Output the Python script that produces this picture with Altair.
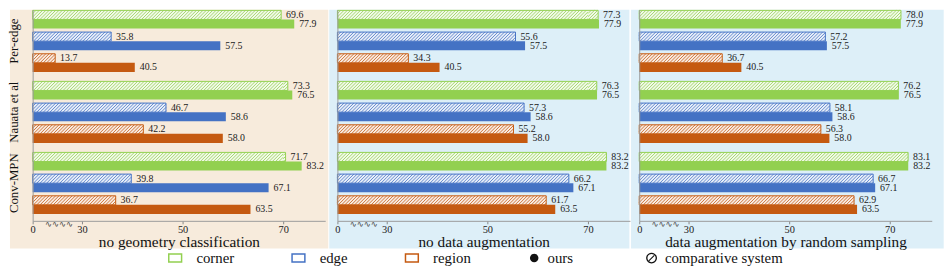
import altair as alt
import pandas as pd

# ---------------- data ----------------
methods = ["Per-edge", "Nauata et al", "Conv-MPN"]
metrics = ["corner", "edge", "region"]
systems = ["ours", "comparative system"]
panels = ["no geometry classification", "no data augmentation",
          "data augmentation by random sampling"]

# ours (identical in every panel): corner, edge, region
ours_per_edge = [77.9, 57.5, 40.5]
ours_nauata = [76.5, 58.6, 58.0]
ours_conv_mpn = [83.2, 67.1, 63.5]

# comparative system: corner, edge, region
nogeo_per_edge = [69.6, 35.8, 13.7]
nogeo_nauata = [73.3, 46.7, 42.2]
nogeo_conv_mpn = [71.7, 39.8, 36.7]

noaug_per_edge = [77.3, 55.6, 34.3]
noaug_nauata = [76.3, 57.3, 55.2]
noaug_conv_mpn = [83.2, 66.2, 61.7]

rand_per_edge = [78.0, 57.2, 36.7]
rand_nauata = [76.2, 58.1, 56.3]
rand_conv_mpn = [83.1, 66.7, 62.9]

x_ticks = [0, 30, 50, 70]

ours_all = [ours_per_edge, ours_nauata, ours_conv_mpn]
comp_all = [
    [nogeo_per_edge, nogeo_nauata, nogeo_conv_mpn],
    [noaug_per_edge, noaug_nauata, noaug_conv_mpn],
    [rand_per_edge, rand_nauata, rand_conv_mpn],
]

rows = []
for pi, pname in enumerate(panels):
    for mi, mname in enumerate(methods):
        for ki, kname in enumerate(metrics):
            rows.append(dict(panel=pname, method=mname, mi=mi, metric=kname, ki=ki,
                             system="comparative system", si=0, value=comp_all[pi][mi][ki]))
            rows.append(dict(panel=pname, method=mname, mi=mi, metric=kname, ki=ki,
                             system="ours", si=1, value=ours_all[mi][ki]))
df = pd.DataFrame(rows)

# ---------------- style ----------------
SERIF = "Liberation Serif"
solid = ["#92D050", "#4472C4", "#C55A11"]
BEIGE = "#F7EBDC"
BLUE = "#DDEFF8"
AXIS_GRAY = "#9a9a9a"
W, H = 296, 214
BAR_H = 9.2

xscale = alt.Scale(domain=[0, 30, 70, 100], range=[0, 50, 254, 296.6],
                   nice=False, zero=False)
yscale = alt.Scale(domain=[0, H], reverse=True, nice=False, zero=False)
# data-driven domain (alphabetical: corner, edge, region)
fill_scale = alt.Scale(range=solid)

yaxis = alt.Axis(labels=False, ticks=False, grid=False, title=None,
                 domainColor=AXIS_GRAY, domainWidth=1, zindex=1)

rect_path = "M-1,-0.62L1,-0.62L1,0.62L-1,0.62Z"
dot_path = "M0.78,0A0.78,0.78 0 1,1 -0.78,0A0.78,0.78 0 1,1 0.78,0Z"
nosign_path = ("M0,-1A1,1 0 1,1 0,1A1,1 0 1,1 0,-1Z"
               "M0,-0.76A0.76,0.76 0 1,0 0,0.76A0.76,0.76 0 1,0 0,-0.76Z"
               "M-0.58,0.44L0.44,-0.58L0.58,-0.44L-0.44,0.58Z")

color_legend = alt.Legend(
    orient="none", legendX=137, legendY=244, direction="horizontal", columns=3,
    title=None, symbolType=rect_path, symbolSize=169, symbolStrokeWidth=1.5,
    symbolFillColor="#ffffff", symbolOpacity=1, labelFont=SERIF, labelFontSize=15,
    labelColor="#111", labelOffset=14, columnPadding=55, padding=0)

shape_legend = alt.Legend(
    orient="none", legendX=501, legendY=244, direction="horizontal", columns=2,
    title=None, symbolSize=121, symbolOpacity=1, symbolFillColor="#111",
    symbolStrokeColor="#111", symbolStrokeWidth=0,
    labelFont=SERIF, labelFontSize=15, labelColor="#111", labelOffset=6,
    columnPadding=72, padding=0)

# hatch segments of the broken axis: (lo, hi, stripe step, stripe run)
hatch_segments = [(0, 30, 2.0, 5.5), (30, 70, 0.65, 1.8), (70, 100, 2.3, 6.5)]


def panel(pi, bg_x, bg_x2, bg_color):
    name = panels[pi]
    xaxis = alt.Axis(values=x_ticks, grid=False, title=name, titleFont=SERIF,
                     titleFontSize=15.5, titleFontWeight="normal", titleColor="#111",
                     titlePadding=0, labelFont=SERIF, labelFontSize=10.5,
                     labelColor="#222", labelPadding=1, labelFlush=False,
                     tickColor="#888", tickSize=3, domainColor=AXIS_GRAY, zindex=1)

    base = alt.Chart(df).transform_filter(alt.datum.panel == name).transform_calculate(
        y0=f"0.6 + datum.mi * 72 + datum.ki * 22 + datum.si * {BAR_H}",
    ).transform_calculate(
        y1=f"datum.y0 + {BAR_H}", yc=f"datum.y0 + {BAR_H / 2}")

    X = alt.X("value:Q", scale=xscale, axis=xaxis)
    Y = alt.Y("y0:Q", scale=yscale, axis=yaxis)

    bg = alt.Chart(alt.Data(values=[{"k": 0}])).mark_rect(color=bg_color).encode(
        x=alt.value(bg_x), x2=alt.value(bg_x2), y=alt.value(0), y2=alt.value(242))

    comp = base.transform_filter(alt.datum.si == 0)
    ours = base.transform_filter(alt.datum.si == 1)

    comp_white = comp.mark_rect(color="#ffffff").encode(
        x=X, x2=alt.datum(0), y=Y, y2="y1:Q")
    comp_tint = comp.mark_rect(fillOpacity=0.12).encode(
        x=X, x2=alt.datum(0), y=Y, y2="y1:Q",
        fill=alt.Fill("metric:N", scale=fill_scale, legend=None))

    stripe_layers = []
    for lo, hi, step, run in hatch_segments:
        st = comp.transform_calculate(
            e=f"min(datum.value, {hi})"
        ).transform_filter(f"datum.e > {lo}").transform_calculate(
            s=f"sequence({lo - run}, datum.e, {step})"
        ).transform_flatten(["s"]).transform_calculate(
            xs=f"max(datum.s, {lo})", xe=f"min(datum.s + {run}, datum.e)"
        ).transform_calculate(
            t0=f"(datum.xs - datum.s) / {run}", t1=f"(datum.xe - datum.s) / {run}"
        ).transform_filter("datum.t1 > datum.t0").transform_calculate(
            ys=f"datum.y1 - datum.t0 * {BAR_H}", ye=f"datum.y1 - datum.t1 * {BAR_H}"
        ).mark_rule(strokeWidth=0.85, opacity=0.95).encode(
            x=alt.X("xs:Q", scale=xscale, axis=xaxis), x2="xe:Q",
            y=alt.Y("ys:Q", scale=yscale, axis=yaxis), y2="ye:Q",
            stroke=alt.Stroke("metric:N", scale=fill_scale, legend=None))
        stripe_layers.append(st)

    comp_outline = comp.mark_rect(fillOpacity=0, strokeWidth=1).encode(
        x=X, x2=alt.datum(0), y=Y, y2="y1:Q",
        stroke=alt.Stroke("metric:N", scale=fill_scale, legend=None))
    ours_bar = ours.mark_rect().encode(
        x=X, x2=alt.datum(0), y=Y, y2="y1:Q",
        fill=alt.Fill("metric:N", scale=fill_scale, legend=None))
    labels = base.mark_text(align="left", baseline="middle", dx=5, font=SERIF,
                            fontSize=10, color="#1a1a1a").encode(
        x=X, y=alt.Y("yc:Q", scale=yscale, axis=yaxis),
        text=alt.Text("value:Q", format=".1f"))
    squiggle = alt.Chart(alt.Data(values=[{"k": 0}])).mark_text(
        text="∿∿∿∿", font="DejaVu Sans", fontSize=8.5, color="#444",
        align="left", baseline="middle").encode(
        x=alt.datum(7.5, scale=xscale, axis=xaxis), y=alt.value(217))

    layers = [bg, comp_white, comp_tint] + stripe_layers + [
        comp_outline, ours_bar, labels, squiggle]

    if pi == 0:
        mlab = base.transform_aggregate(
            lo="min(y0)", hi="max(y1)", groupby=["method"]
        ).transform_calculate(mid="(datum.lo + datum.hi) / 2").mark_text(
            angle=270, align="center", baseline="middle", font=SERIF,
            fontSize=13, color="#111").encode(
            x=alt.value(-18.5), y=alt.Y("mid:Q", scale=yscale, axis=yaxis),
            text="method:N")
        cleg = alt.Chart(pd.DataFrame({"metric": metrics})).mark_point(
            filled=False, opacity=0).encode(
            color=alt.Color("metric:N", scale=alt.Scale(domain=metrics, range=solid),
                            legend=color_legend),
            x=alt.value(10), y=alt.value(10))
        sleg = alt.Chart(pd.DataFrame({"system": systems})).mark_point(
            filled=True, color="#111", opacity=0).encode(
            shape=alt.Shape("system:N",
                            scale=alt.Scale(domain=systems, range=[dot_path, nosign_path]),
                            legend=shape_legend),
            x=alt.value(10), y=alt.value(10))
        layers += [mlab, cleg, sleg]

    return alt.layer(*layers).properties(width=W, height=H)


p1 = panel(0, -23, 299.7, BEIGE)
p2 = panel(1, -8.3, 296, BLUE)
p3 = panel(2, -8.3, 308.7, BLUE)

chart = alt.hconcat(p1, p2, p3, spacing=0).resolve_scale(
    fill="shared", stroke="shared", shape="shared", color="shared"
).properties(
    padding={"left": 0, "top": 0, "right": 0, "bottom": 0},
    background="#ffffff",
).configure_view(stroke=None)

chart.save("out.html", embed_options={"renderer": "svg", "actions": False})
